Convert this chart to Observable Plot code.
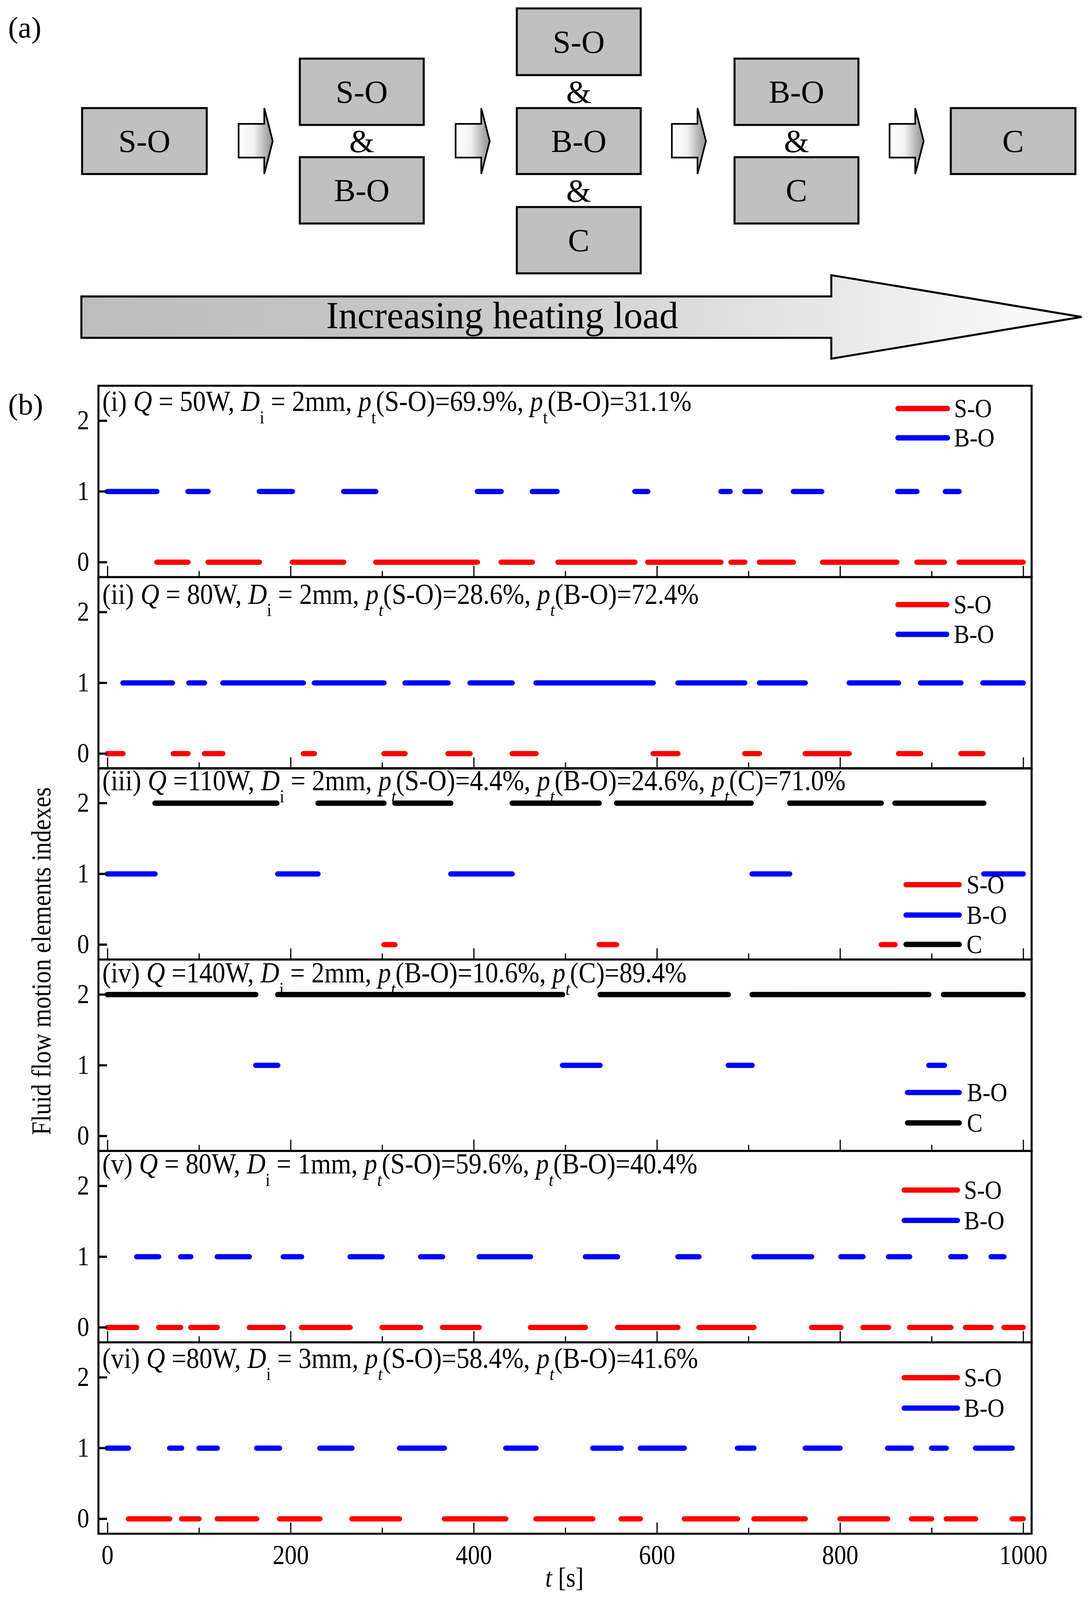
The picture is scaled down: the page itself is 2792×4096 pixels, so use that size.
<!DOCTYPE html>
<html>
<head>
<meta charset="utf-8">
<script src="https://cdn.jsdelivr.net/npm/d3@7"></script>
<script src="https://cdn.jsdelivr.net/npm/@observablehq/plot@0.6"></script>
<style>
  html, body { margin: 0; padding: 0; background: #fff; }
  #page { position: relative; width: 2792px; height: 4096px; overflow: hidden; background: #fff; }
  #page svg { position: absolute; left: 0; }
  #page text, #page tspan { white-space: pre; }
</style>
</head>
<body>
<div id="page"></div>
<script>
// ---------------- DATA ----------------
const timeTicksMajor = [0, 200, 400, 600, 800, 1000];
const timeTicksMinor = [100, 300, 500, 700, 900];
const indexTicks = [0, 1, 2];
const seriesIndex = { "S-O": 0, "B-O": 1, "C": 2 };
const seriesColor = { "S-O": "#ff0000", "B-O": "#0000ff", "C": "#000000" };

// (i) Q = 50 W, Di = 2 mm  — [start, end] in s
const p1_SO = [[54,88],[110,166],[202,258],[293,404],[430,464],[492,576],[590,670],[681,696],[712,749],[781,862],[884,914],[930,1000]];
const p1_BO = [[0,54],[88,110],[166,202],[258,293],[404,430],[464,491],[576,590],[670,680],[696,713],[749,780],[863,884],[915,930]];
// (ii) Q = 80 W, Di = 2 mm
const p2_SO = [[0,17],[72,88],[106,126],[214,226],[302,325],[372,396],[442,468],[596,623],[696,712],[762,810],[864,888],[932,956]];
const p2_BO = [[17,71],[89,106],[126,214],[226,302],[325,372],[396,442],[468,596],[623,696],[712,762],[810,864],[888,932],[956,1000]];
// (iii) Q = 110 W, Di = 2 mm
const p3_SO = [[302,314],[537,556],[845,860]];
const p3_BO = [[0,52],[186,230],[375,442],[704,745],[957,1000]];
const p3_C  = [[52,185],[230,302],[314,375],[442,537],[556,703],[745,845],[860,957]];
// (iv) Q = 140 W, Di = 2 mm
const p4_BO = [[162,186],[497,538],[678,704],[897,914]];
const p4_C  = [[0,162],[186,497],[538,678],[704,897],[913,1000]];
// (v) Q = 80 W, Di = 1 mm
const p5_SO = [[0,32],[56,80],[91,120],[155,192],[212,265],[300,342],[366,406],[462,522],[557,623],[646,706],[769,801],[825,853],[876,921],[937,965],[979,1000]];
const p5_BO = [[32,56],[80,91],[120,155],[192,212],[265,300],[342,366],[406,462],[522,557],[623,646],[706,769],[801,825],[853,876],[921,937],[965,979]];
// (vi) Q = 80 W, Di = 3 mm
const p6_SO = [[23,68],[81,100],[120,163],[188,232],[267,319],[368,435],[468,530],[561,582],[630,688],[706,762],[800,852],[878,900],[916,948],[988,1000]];
const p6_BO = [[0,23],[68,81],[100,120],[163,188],[232,267],[319,368],[435,468],[530,561],[582,630],[688,706],[762,800],[852,878],[900,916],[948,988]];

// titles: [text, style]  n = normal, i = italic, s = subscript, si = italic subscript
const title1 = [["(i) ","n"],["Q","i"],[" = 50W, ","n"],["D","i"],["i","s"],[" = 2mm, ","n"],["p","i"],["t","s"],["(S-O)=69.9%, ","n"],["p","i"],["t","s"],["(B-O)=31.1%","n"]];
const title2 = [["(ii) ","n"],["Q","i"],[" = 80W, ","n"],["D","i"],["i","s"],[" = 2mm, ","n"],["p","i"],["t","si"],["(S-O)=28.6%, ","n"],["p","i"],["t","si"],["(B-O)=72.4%","n"]];
const title3 = [["(iii) ","n"],["Q","i"],[" =110W, ","n"],["D","i"],["i","s"],[" = 2mm, ","n"],["p","i"],["t","si"],["(S-O)=4.4%, ","n"],["p","i"],["t","si"],["(B-O)=24.6%, ","n"],["p","i"],["t","si"],["(C)=71.0%","n"]];
const title4 = [["(iv) ","n"],["Q","i"],[" =140W, ","n"],["D","i"],["i","s"],[" = 2mm, ","n"],["p","i"],["t","si"],["(B-O)=10.6%, ","n"],["p","i"],["t","si"],["(C)=89.4%","n"]];
const title5 = [["(v) ","n"],["Q","i"],[" = 80W, ","n"],["D","i"],["i","s"],[" = 1mm, ","n"],["p","i"],["t","si"],["(S-O)=59.6%, ","n"],["p","i"],["t","si"],["(B-O)=40.4%","n"]];
const title6 = [["(vi) ","n"],["Q","i"],[" =80W, ","n"],["D","i"],["i","s"],[" = 3mm, ","n"],["p","i"],["t","si"],["(S-O)=58.4%, ","n"],["p","i"],["t","si"],["(B-O)=41.6%","n"]];

const yAxisTitle = "Fluid flow motion elements indexes";
const xAxisTitle = [["t","i"],[" [s]","n"]];
const bannerText = "Increasing heating load";

// schematic (a): columns of regime boxes
const schemeColumns = [["S-O"], ["S-O","B-O"], ["S-O","B-O","C"], ["B-O","C"], ["C"]];

// ---------------- LAYOUT (reference px, scaled by K) ----------------
const K = 0.938;
const FONT = "'Liberation Serif','Times New Roman',Times,serif";
const STRETCH = 1.12;
const W = 2792;
const PANEL_TOP = 1052, PANEL_H = 522.2, FRAME_L = 268, FRAME_R = 2814;
const TITLE_FS = 71;

const panels = [
  { series: { "S-O": p1_SO, "B-O": p1_BO }, title: title1, titleBase: 70,
    legend: { x1: 2450, x2: 2585, tx: 2603, items: ["S-O","B-O"], ys: [63,143] } },
  { series: { "S-O": p2_SO, "B-O": p2_BO }, title: title2, titleBase: 74,
    legend: { x1: 2450, x2: 2583, tx: 2602, items: ["S-O","B-O"], ys: [76,157] } },
  { series: { "S-O": p3_SO, "B-O": p3_BO, "C": p3_C }, title: title3, titleBase: 60,
    legend: { x1: 2472, x2: 2617, tx: 2637, items: ["S-O","B-O","C"], ys: [318,401,481] } },
  { series: { "B-O": p4_BO, "C": p4_C }, title: title4, titleBase: 63,
    legend: { x1: 2476, x2: 2617, tx: 2638, items: ["B-O","C"], ys: [363,446] } },
  { series: { "S-O": p5_SO, "B-O": p5_BO }, title: title5, titleBase: 62,
    legend: { x1: 2467, x2: 2612, tx: 2630, items: ["S-O","B-O"], ys: [107,190] } },
  { series: { "S-O": p6_SO, "B-O": p6_BO }, title: title6, titleBase: 70,
    legend: { x1: 2467, x2: 2612, tx: 2630, items: ["S-O","B-O"], ys: [97,180] } }
];

const page = document.getElementById("page");

// ---------------- PANELS (Observable Plot) ----------------
panels.forEach((p, i) => {
  const isLast = i === panels.length - 1;
  const mt = 8, mb = isLast ? 160 : 8;
  const h = PANEL_H * K;
  const segMarks = Object.entries(p.series).map(([name, segs]) =>
    Plot.ruleY(segs, {
      y: () => seriesIndex[name],
      x1: d => d[0], x2: d => d[1],
      stroke: seriesColor[name], strokeWidth: 14.5 * K, strokeLinecap: "round"
    })
  );
  const plot = Plot.plot({
    width: W, height: h + mt + mb,
    marginTop: mt, marginBottom: mb,
    marginLeft: FRAME_L * K, marginRight: W - FRAME_R * K,
    x: { domain: [-10, 1009], label: null },
    y: { domain: [-0.21, 2.495], label: null },
    style: { fontFamily: FONT, fontSize: `${66 * K}px`, background: "transparent", color: "#000", overflow: "visible" },
    marks: [
      ...segMarks,
      Plot.axisY({ ticks: indexTicks, tickSize: 0, tickPadding: 25 * K, tickFormat: d => String(d), label: null }),
      Plot.axisY({ ticks: indexTicks, tickSize: -24 * K, tickFormat: () => "", strokeWidth: 6 * K, label: null }),
      Plot.axisX({ ticks: timeTicksMajor, tickSize: -30 * K, tickPadding: 57, strokeWidth: 3.2 * K,
                   tickFormat: isLast ? (d => String(d)) : (() => ""), label: null }),
      Plot.axisX({ ticks: timeTicksMinor, tickSize: -16 * K, strokeWidth: 3.2 * K, tickFormat: () => "", label: null }),
      Plot.frame({ stroke: "#000", strokeWidth: 5.5 * K })
    ]
  });
  plot.style.top = `${(PANEL_TOP + i * PANEL_H) * K - mt}px`;
  // slight vertical stretch of the tick labels, as in the original export
  d3.select(plot).selectAll('g[aria-label="x-axis tick label"] text, g[aria-label="y-axis tick label"] text')
    .attr("transform", function () { return (this.getAttribute("transform") || "") + ` scale(1,${STRETCH})`; });
  page.appendChild(plot);
});

// ---------------- OVERLAY (schematic, titles, legends) ----------------
const svg = d3.select(page).append("svg")
  .attr("width", W).attr("height", 4096).style("top", "0px")
  .attr("font-family", FONT).style("pointer-events", "none");

function richText(g, parts, x, y, fs, stretch, anchor = "start", rotate = 0) {
  const t = g.append("text")
    .attr("transform", `translate(${x},${y})${rotate ? ` rotate(${rotate})` : ""} scale(1,${stretch})`)
    .attr("font-size", fs).attr("text-anchor", anchor).attr("fill", "#000");
  let down = false;
  for (const [s, st] of parts) {
    const sp = t.append("tspan").text(s);
    const sub = st.startsWith("s");
    if (st === "i" || st === "si") sp.attr("font-style", "italic");
    if (sub) {
      sp.attr("font-size", 0.62 * fs);
      if (!down) { sp.attr("dy", 0.42 * fs); down = true; }
    } else if (down) { sp.attr("dy", -0.42 * fs); down = false; }
  }
  return t;
}

const defs = svg.append("defs");
const gSmall = defs.append("linearGradient").attr("id", "gSmall").attr("x1", "0").attr("x2", "1").attr("y1", "0").attr("y2", "0");
gSmall.append("stop").attr("offset", "0%").attr("stop-color", "#ffffff");
gSmall.append("stop").attr("offset", "45%").attr("stop-color", "#f2f2f2");
gSmall.append("stop").attr("offset", "100%").attr("stop-color", "#8c8c8c");
const gBig = defs.append("linearGradient").attr("id", "gBig").attr("x1", "0").attr("x2", "1").attr("y1", "0").attr("y2", "0");
gBig.append("stop").attr("offset", "0%").attr("stop-color", "#bdbdbd");
gBig.append("stop").attr("offset", "35%").attr("stop-color", "#c6c6c6");
gBig.append("stop").attr("offset", "100%").attr("stop-color", "#fdfdfd");

const S = svg.append("g").attr("transform", `scale(${K})`);

// (a) / (b) labels
S.append("text").attr("x", 22).attr("y", 102).attr("font-size", 82).text("(a)");
S.append("text").attr("x", 22).attr("y", 1131).attr("font-size", 82).text("(b)");

// schematic boxes
const colX = [[224,564],[818,1156],[1410,1748],[2004,2342],[2594,2934]];
const rowY = {
  1: [[295,475]],
  2: [[160,341],[429,610]],
  3: [[23,205],[295,475],[565,746]]
};
schemeColumns.forEach((col, ci) => {
  const [x0, x1] = colX[ci];
  const rows = rowY[col.length];
  col.forEach((lab, ri) => {
    const [y0, y1] = rows[ri];
    S.append("rect").attr("x", x0).attr("y", y0).attr("width", x1 - x0).attr("height", y1 - y0)
      .attr("fill", "#c0c0c0").attr("stroke", "#000").attr("stroke-width", 5.5);
    S.append("text").attr("x", (x0 + x1) / 2).attr("y", (y0 + y1) / 2 + 30)
      .attr("text-anchor", "middle").attr("font-size", 88).text(lab);
    if (ri < rows.length - 1) {
      const ny0 = rows[ri + 1][0];
      S.append("text").attr("x", (x0 + x1) / 2).attr("y", (y1 + ny0) / 2 + 30)
        .attr("text-anchor", "middle").attr("font-size", 88).text("&");
    }
  });
});

// small block arrows
[651, 1243, 1833, 2427].forEach(ax => {
  const pts = [[ax,338],[ax+70,338],[ax+70,295],[ax+93,385],[ax+70,475],[ax+70,430],[ax,430]];
  S.append("polygon").attr("points", pts.map(p => p.join(",")).join(" "))
    .attr("fill", "url(#gSmall)").attr("stroke", "#000").attr("stroke-width", 4.5).attr("stroke-linejoin", "miter");
});

// big arrow
const big = [[222,809],[2268,809],[2268,751],[2951,865],[2268,979],[2268,922],[222,922]];
S.append("polygon").attr("points", big.map(p => p.join(",")).join(" "))
  .attr("fill", "url(#gBig)").attr("stroke", "#000").attr("stroke-width", 5.5);
S.append("text").attr("x", 1370).attr("y", 896).attr("text-anchor", "middle").attr("font-size", 103).text(bannerText);

// panel titles and legends
panels.forEach((p, i) => {
  const top = PANEL_TOP + i * PANEL_H;
  richText(S, p.title, 279, top + p.titleBase, TITLE_FS, STRETCH);
  const L = p.legend;
  L.items.forEach((name, j) => {
    const y = top + L.ys[j];
    S.append("line").attr("x1", L.x1).attr("x2", L.x2).attr("y1", y).attr("y2", y)
      .attr("stroke", seriesColor[name]).attr("stroke-width", 14.5).attr("stroke-linecap", "round");
    S.append("text").attr("transform", `translate(${L.tx},${y + 0.331 * 64 * STRETCH}) scale(1,${STRETCH})`)
      .attr("font-size", 64).text(name);
  });
});

// axis titles
richText(S, [[yAxisTitle, "n"]], 138, 2623, 66, STRETCH, "middle", -90);
richText(S, xAxisTitle, 1540, 4330, 66, STRETCH, "middle");
</script>
</body>
</html>
